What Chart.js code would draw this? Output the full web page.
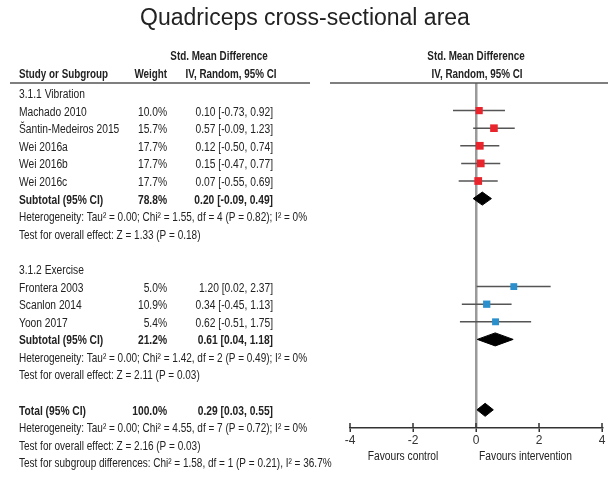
<!DOCTYPE html>
<html>
<head>
<meta charset="utf-8">
<script src="https://cdn.jsdelivr.net/npm/chart.js@4.4.1/dist/chart.umd.min.js"></script>
<style>
  html, body { margin: 0; padding: 0; background: #fff; }
</style>
</head>
<body>
<canvas id="forest" width="609" height="477"></canvas>
<script>
// dados do forest plot
var groups = ['3.1.1 Vibration', '3.1.2 Exercise'];
var studies = ['Machado 2010', 'Šantin-Medeiros 2015', 'Wei 2016a', 'Wei 2016b', 'Wei 2016c',
               'Frontera 2003', 'Scanlon 2014', 'Yoon 2017'];
var studyGroup = [0, 0, 0, 0, 0, 1, 1, 1];
var weights = [10.0, 15.7, 17.7, 17.7, 17.7, 5.0, 10.9, 5.4];
var smd = [0.10, 0.57, 0.12, 0.15, 0.07, 1.20, 0.34, 0.62];
var lower = [-0.73, -0.09, -0.50, -0.47, -0.55, 0.02, -0.45, -0.51];
var upper = [0.92, 1.23, 0.74, 0.77, 0.69, 2.37, 1.13, 1.75];

// subtotais (um por grupo) e total
var subWeights = [78.8, 21.2];
var subSmd = [0.20, 0.61];
var subLower = [-0.09, 0.04];
var subUpper = [0.49, 1.18];
var subHet = ['Heterogeneity: Tau² = 0.00; Chi² = 1.55, df = 4 (P = 0.82); I² = 0%',
              'Heterogeneity: Tau² = 0.00; Chi² = 1.42, df = 2 (P = 0.49); I² = 0%'];
var subTest = ['Test for overall effect: Z = 1.33 (P = 0.18)',
               'Test for overall effect: Z = 2.11 (P = 0.03)'];

var totalWeight = 100.0;
var totalSmd = 0.29;
var totalLower = 0.03;
var totalUpper = 0.55;
var totalNotes = ['Heterogeneity: Tau² = 0.00; Chi² = 4.55, df = 7 (P = 0.72); I² = 0%',
                  'Test for overall effect: Z = 2.16 (P = 0.03)',
                  'Test for subgroup differences: Chi² = 1.58, df = 1 (P = 0.21), I² = 36.7%'];

var xTicks = [-4, -2, 0, 2, 4];
var favours = ['Favours control', 'Favours intervention'];

// cores e fontes
var SANS = '"Liberation Sans", Arial, sans-serif';
var NARROW_X = 0.82; // fonte "narrow" simulada
var groupColors = ['#e8242c', '#2b8fcc'];
var textColor = '#222';

// monta as linhas da tabela (indice de linha = valor no eixo y)
var rows = [];
groups.forEach(function(g, gi) {
    rows.push({ kind: 'group', text: g });
    studies.forEach(function(s, i) {
        if (studyGroup[i] === gi) rows.push({ kind: 'study', i: i });
    });
    rows.push({ kind: 'sub', name: 'Subtotal (95% CI)', w: subWeights[gi], est: subSmd[gi], lo: subLower[gi], hi: subUpper[gi] });
    rows.push({ kind: 'note', text: subHet[gi] });
    rows.push({ kind: 'note', text: subTest[gi] });
    rows.push({ kind: 'blank' });
});
rows.push({ kind: 'sub', name: 'Total (95% CI)', w: totalWeight, est: totalSmd, lo: totalLower, hi: totalUpper });
totalNotes.forEach(function(t) { rows.push({ kind: 'note', text: t }); });

function ciText(est, lo, hi) {
    return est.toFixed(2) + ' [' + lo.toFixed(2) + ', ' + hi.toFixed(2) + ']';
}

// datasets
var squarePoints = [], squareRadius = [], squareColors = [];
var ciSets = [], diamondSets = [];
var DIAMOND_H = 0.37;
rows.forEach(function(r, ri) {
    if (r.kind === 'study') {
        var i = r.i;
        squarePoints.push({ x: smd[i], y: ri });
        squareRadius.push(4.6 + 0.05 * weights[i]);
        squareColors.push(groupColors[studyGroup[i]]);
        ciSets.push({
            type: 'line',
            data: [{ x: lower[i], y: ri }, { x: upper[i], y: ri }],
            borderColor: '#555',
            borderWidth: 1.5,
            pointRadius: 0,
            order: 2
        });
    } else if (r.kind === 'sub') {
        diamondSets.push({
            type: 'line',
            data: [{ x: r.lo, y: ri }, { x: r.est, y: ri - DIAMOND_H }, { x: r.hi, y: ri },
                   { x: r.est, y: ri + DIAMOND_H }, { x: r.lo, y: ri }],
            borderColor: '#000',
            backgroundColor: '#000',
            borderWidth: 1,
            pointRadius: 0,
            fill: 'shape',
            tension: 0,
            order: 1
        });
    }
});

var datasets = [{
    type: 'scatter',
    data: squarePoints,
    pointStyle: 'rect',
    pointRadius: squareRadius,
    backgroundColor: squareColors,
    borderWidth: 0,
    order: 0
}].concat(ciSets, diamondSets);

// texto comprimido na horizontal
function narrowText(ctx, text, x, y, align, weight, size) {
    ctx.save();
    ctx.font = (weight || '') + ' ' + (size || 12.5) + 'px ' + SANS;
    ctx.textAlign = align;
    ctx.translate(x, y);
    ctx.scale(NARROW_X, 1);
    ctx.fillText(text, 0, 0);
    ctx.restore();
}

// desenha a tabela, titulo e detalhes do eixo
var tablePlugin = {
    id: 'table',
    afterDraw: function(chart) {
        var ctx = chart.ctx;
        var ys = chart.scales.y, xs = chart.scales.x;
        var area = chart.chartArea;
        var colName = 19, colW = 167, colCI = 273;
        ctx.save();
        ctx.fillStyle = textColor;
        ctx.textBaseline = 'middle';

        // titulo
        ctx.font = '23px ' + SANS;
        ctx.textAlign = 'center';
        ctx.fillText('Quadriceps cross-sectional area', 305, 19);

        // cabecalhos
        narrowText(ctx, 'Std. Mean Difference', 219, 57, 'center', 'bold', 12);
        narrowText(ctx, 'IV, Random, 95% CI', 231, 75, 'center', 'bold', 12);
        narrowText(ctx, 'Std. Mean Difference', 476, 57, 'center', 'bold', 12);
        narrowText(ctx, 'IV, Random, 95% CI', 477, 75, 'center', 'bold', 12);
        narrowText(ctx, 'Study or Subgroup', colName, 75, 'left', 'bold', 12);
        narrowText(ctx, 'Weight', colW, 75, 'right', 'bold', 12);

        ctx.strokeStyle = '#555';
        ctx.lineWidth = 1.5;
        ctx.beginPath();
        ctx.moveTo(10, area.top); ctx.lineTo(310, area.top);
        ctx.moveTo(330, area.top); ctx.lineTo(608, area.top);
        ctx.stroke();

        rows.forEach(function(r, ri) {
            var py = ys.getPixelForValue(ri) + 1.5;
            if (r.kind === 'group') {
                narrowText(ctx, r.text, colName, py, 'left');
            } else if (r.kind === 'note') {
                narrowText(ctx, r.text, colName, py, 'left', '', 12.2);
            } else if (r.kind === 'study') {
                var i = r.i;
                narrowText(ctx, studies[i], colName, py, 'left');
                narrowText(ctx, weights[i].toFixed(1) + '%', colW, py, 'right');
                narrowText(ctx, ciText(smd[i], lower[i], upper[i]), colCI, py, 'right');
            } else if (r.kind === 'sub') {
                narrowText(ctx, r.name, colName, py, 'left', 'bold');
                narrowText(ctx, r.w.toFixed(1) + '%', colW, py, 'right', 'bold');
                narrowText(ctx, ciText(r.est, r.lo, r.hi), colCI, py, 'right', 'bold');
            }
        });

        // marcas acima do eixo
        ctx.strokeStyle = '#333';
        ctx.beginPath();
        xs.ticks.forEach(function(t) {
            var px = xs.getPixelForValue(t.value);
            ctx.moveTo(px, area.bottom - 5);
            ctx.lineTo(px, area.bottom);
        });
        ctx.stroke();

        // rotulos "favours"
        var zero = xs.getPixelForValue(0);
        narrowText(ctx, favours[0], zero - 73, 456.5, 'center');
        narrowText(ctx, favours[1], zero + 49.5, 456.5, 'center');
        ctx.restore();
    }
};

var chart = new Chart(document.getElementById('forest').getContext('2d'), {
    type: 'scatter',
    data: { datasets: datasets },
    options: {
        responsive: false,
        animation: false,
        layout: { padding: { left: 350, right: 7, top: 83, bottom: 0 } },
        plugins: {
            legend: { display: false },
            tooltip: { enabled: false },
            title: { display: false }
        },
        scales: {
            x: {
                type: 'linear',
                min: xTicks[0],
                max: xTicks[xTicks.length - 1],
                afterBuildTicks: function(s) {
                    s.ticks = xTicks.map(function(v) { return { value: v }; });
                },
                afterFit: function(s) { s.height = 49; },
                ticks: {
                    font: { size: 12, family: SANS },
                    color: '#333',
                    padding: 1
                },
                grid: {
                    drawOnChartArea: true,
                    color: function(c) { return c.tick && c.tick.value === 0 ? '#9a9a9a' : 'rgba(0,0,0,0)'; },
                    lineWidth: 2.5,
                    tickColor: '#333',
                    tickWidth: 1.5,
                    tickLength: 4
                },
                border: { display: true, color: '#333', width: 1.5 }
            },
            y: {
                type: 'linear',
                display: false,
                reverse: true,
                min: -0.568,
                max: 19.034
            }
        }
    },
    plugins: [tablePlugin]
});
</script>
</body>
</html>
